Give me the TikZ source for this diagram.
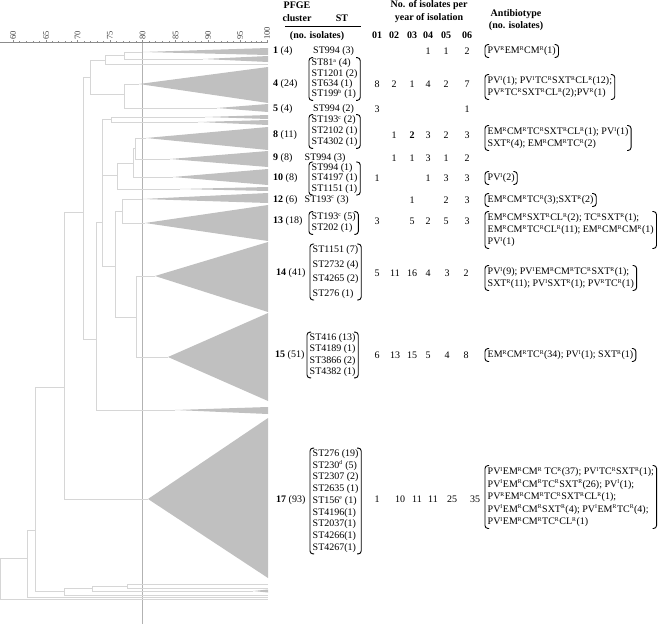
\documentclass[tikz,border=0pt]{standalone}
\usepackage{fontspec}
\setmainfont{Liberation Serif}
\usepackage{tikz}
\usetikzlibrary{positioning}
\definecolor{dendro}{RGB}{214,214,214}
\definecolor{wedgefill}{RGB}{192,192,192}
\definecolor{cutline}{RGB}{178,178,178}
\definecolor{axisgray}{RGB}{140,140,140}
\newcommand\rR{\textsuperscript{\fontsize{5.8}{6}\selectfont R}}
\newcommand\rI{\textsuperscript{\fontsize{5.8}{6}\selectfont I}}
\newcommand\stsup[1]{\textsuperscript{\fontsize{5.8}{6}\selectfont #1}}
% rounded side bars round a named node
\newcommand\encl[1]{%
  \draw[bar] ([xshift=4pt]#1.north west) -- (#1.north west) -- (#1.south west) -- ([xshift=4pt]#1.south west);
  \draw[bar] ([xshift=-4pt]#1.north east) -- (#1.north east) -- (#1.south east) -- ([xshift=-4pt]#1.south east);}

\begin{document}
\begin{tikzpicture}[x=1pt,y=-1pt,
    dend/.style={draw=dendro,line width=0.8pt},
    wedge/.style={fill=wedgefill},
    cut/.style={draw=cutline,line width=1.3pt},
    axisln/.style={draw=axisgray,line width=0.6pt},
    scalelbl/.style={rotate=90,anchor=west,inner sep=0pt,font=\fontsize{8.5}{9}\selectfont,text=black!75},
    hdr/.style={inner sep=0pt,font=\fontsize{10}{11}\selectfont\bfseries},
    clus/.style={anchor=west,inner sep=0pt,font=\fontsize{10}{11}\selectfont},
    st/.style={anchor=west,align=left,inner xsep=2.5pt,inner ysep=1.2pt,font=\fontsize{10}{11}\selectfont},
    yr/.style={inner sep=0pt,font=\fontsize{10}{11}\selectfont},
    abt/.style={anchor=west,align=left,inner xsep=2.5pt,inner ysep=1.5pt,font=\fontsize{10}{12}\selectfont},
    bar/.style={draw,line width=0.9pt,rounded corners=3pt}
  ]
  \useasboundingbox (0,0) rectangle (664,624);

  % similarity scale
  \draw[axisln] (0,42.5) -- (268,42.5);
  \foreach \v/\x in {60/13,65/46,70/77.5,75/110,80/142.5,85/175.5,90/208,95/240,100/267} {
    \node[scalelbl] (s\v) at (\x,40) {\v};
    \draw[axisln] (\x,42.5) -- ++(0,-3);
  }
  \foreach \p/\q in {13/46,46/77.5,77.5/110,110/142.5,142.5/175.5,175.5/208,208/240,240/267}
    \foreach \k in {1,...,4}
      \draw[axisln] ({\p+\k*(\q-\p)/5},42.5) -- ++(0,-1.5);

  % cut-off at 80%
  \draw[cut] (142.5,42.5) -- (142.5,624);

  % dendrogram branches
  \draw[dend] (142,52) -| (124,59) -- (203,59);
  \draw[dend] (124,55.5) -| (105,64) -- (268,64);
  \draw[dend] (105,60) -| (90,94) -- (124,94);
  \draw[dend] (139,84) -| (124,108) -- (217,108);
  \draw[dend] (90,77) -| (83,339) -- (96,339);
  \draw[dend] (205,117) -| (111,122) -- (198,122);
  \draw[dend] (111,119.5) -| (102.5,266) -- (115,266);
  \draw[dend] (102.5,175) -- (117,175);
  \draw[dend] (146,138) -| (135,159) -- (170,159);
  \draw[dend] (135,148.5) -| (133,177) -- (173,177);
  \draw[dend] (133,163) -| (117,189) -- (180,189);
  \draw[dend] (142,199) -| (122,223) -- (145,223);
  \draw[dend] (122,211) -| (115,317) -- (136,317);
  \draw[dend] (155,276) -| (136,357) -- (168,357);
  \draw[dend] (102.5,222) -| (96,410) -- (175,410);
  \draw[dend] (83,212) -| (64,499) -- (148,499);
  \draw[dend] (64,387) -| (35,591) -- (64,591);
  \draw[dend] (92,588.5) -| (64,595) -- (268,595);
  \draw[dend] (127,586) -| (92,591) -- (253,591);
  \draw[dend] (268,584) -| (127,588) -- (268,588);
  \draw[dend] (35,530) -| (27,597) -- (268,597);
  \draw[dend] (27,558) -| (0.5,599) -- (268,599);

  % collapsed clusters
  \fill[wedge] (142,52) -- (268,48) -- (268,55) -- cycle;
  \fill[wedge] (203,59) -- (268,56) -- (268,62) -- cycle;
  \fill[wedge] (139,84) -- (268,67) -- (268,103) -- cycle;
  \fill[wedge] (217,108) -- (268,104) -- (268,112) -- cycle;
  \fill[wedge] (205,117) -- (268,115) -- (268,119) -- cycle;
  \fill[wedge] (198,122) -- (268,120) -- (268,125) -- cycle;
  \fill[wedge] (146,138) -- (268,127) -- (268,150) -- cycle;
  \fill[wedge] (170,159) -- (268,151) -- (268,167) -- cycle;
  \fill[wedge] (173,177) -- (268,169) -- (268,185) -- cycle;
  \fill[wedge] (180,189) -- (268,187) -- (268,191) -- cycle;
  \fill[wedge] (142,199) -- (268,193) -- (268,203) -- cycle;
  \fill[wedge] (145,223) -- (268,205) -- (268,241) -- cycle;
  \fill[wedge] (155,276) -- (268,242) -- (268,312) -- cycle;
  \fill[wedge] (168,357) -- (268,313) -- (268,401) -- cycle;
  \fill[wedge] (175,410) -- (268,407) -- (268,414) -- cycle;
  \fill[wedge] (148,499) -- (268,418) -- (268,578) -- cycle;
  \fill[wedge] (253,591) -- (268,589.5) -- (268,592.5) -- cycle;

  % table headers
  \node[hdr] (hpfge) at (297,5) {PFGE};
  \node[hdr] (hclus) at (297,18) {cluster};
  \node[hdr] (hst) at (342,18) {ST};
  \draw[line width=0.8pt] (285,26.5) -- (361,26.5);
  \node[hdr] (hiso) at (317,36) {(no. isolates)};
  \node[hdr] (hyr1) at (429,5) {No. of isolates per};
  \node[hdr] (hyr2) at (429,18) {year of isolation};
  \foreach \x/\v in {377/01,394/02,412/03,428/04,446/05,467/06}
    \node[hdr] (h\v) at (\x,35) {\v};
  \node[hdr] (hab1) at (516,14) {Antibiotype};
  \node[hdr] (hab2) at (516,26) {(no. isolates)};

  % cluster 1
  \node[clus] (cl1) at (273,51) {\textbf{1} (4)};
  \node[st] (st1) at (310.5,51) {ST994 (3)};
  \foreach \x/\v [count=\i] in {428/1,446/1,467/2}
    \node[yr] (y1-\i) at (\x,51) {\v};
  \node[abt] (ab1) at (485,51) {PV\rR EM\rR CM\rR(1)};
  \encl{ab1}

  % cluster 4
  \node[clus] (cl4) at (273,84) {\textbf{4} (24)};
  \node[st,font=\fontsize{10}{10.3}\selectfont] (st4) at (309,79)
    {ST81\stsup{a} (4)\\ST1201 (2)\\ST634 (1)\\ST199\stsup{b} (1)};
  \encl{st4}
  \foreach \x/\v [count=\i] in {377/8,394/2,412/1,428/4,446/2,467/7}
    \node[yr] (y4-\i) at (\x,84) {\v};
  \node[abt] (ab4) at (485,87)
    {PV\rI(1); PV\rI TC\rR SXT\rR CL\rR(12);\\PV\rR TC\rR SXT\rR CL\rR (2);PV\rR(1)};
  \encl{ab4}

  % cluster 5
  \node[clus] (cl5) at (273,109) {\textbf{5} (4)};
  \node[st] (st5) at (310.5,109) {ST994 (2)};
  \foreach \x/\v [count=\i] in {377/3,467/1}
    \node[yr] (y5-\i) at (\x,109) {\v};

  % cluster 8
  \node[clus] (cl8) at (273,135) {\textbf{8} (11)};
  \node[st] (st8) at (309,131.5)
    {ST193\stsup{c} (2)\\ST2102 (1)\\ST4302 (1)};
  \encl{st8}
  \foreach \x/\v [count=\i] in {394/1,412/\textbf{2},428/3,446/2,467/3}
    \node[yr] (y8-\i) at (\x,135) {\v};
  \node[abt] (ab8) at (485,138)
    {EM\rR CM\rR TC\rR SXT\rR CL\rR(1); PV\rI(1)\\SXT\rR(4); EM\rR CM\rR TC\rR(2)};
  \encl{ab8}

  % cluster 9
  \node[clus] (cl9) at (273,158.5) {\textbf{9} (8)};
  \node[st] (st9) at (302,158.5) {ST994 (3)};
  \foreach \x/\v [count=\i] in {394/1,412/1,428/3,446/1,467/2}
    \node[yr] (y9-\i) at (\x,158.5) {\v};

  % cluster 10
  \node[clus] (cl10) at (273,178) {\textbf{10} (8)};
  \node[st,font=\fontsize{10}{10.6}\selectfont] (st10) at (309,178.5) {ST994 (1)\\ST4197 (1)\\ST1151 (1)};
  \encl{st10}
  \foreach \x/\v [count=\i] in {377/1,428/1,446/3,467/3}
    \node[yr] (y10-\i) at (\x,178) {\v};
  \node[abt] (ab10) at (485,178) {PV\rI(2)};
  \encl{ab10}

  % cluster 12
  \node[clus] (cl12) at (273,200) {\textbf{12} (6)};
  \node[st] (st12) at (302,200) {ST193\stsup{c} (3)};
  \foreach \x/\v [count=\i] in {412/1,446/2,467/3}
    \node[yr] (y12-\i) at (\x,200) {\v};
  \node[abt] (ab12) at (485,200) {EM\rR CM\rR TC\rR(3);SXT\rR(2)};
  \encl{ab12}

  % cluster 13
  \node[clus] (cl13) at (273,221) {\textbf{13} (18)};
  \node[st] (st13) at (309,223) {ST193\stsup{c} (5)\\ST202 (1)};
  \encl{st13}
  \foreach \x/\v [count=\i] in {377/3,412/5,428/2,446/5,467/3}
    \node[yr] (y13-\i) at (\x,221) {\v};
  \node[abt] (ab13) at (485,230)
    {EM\rR CM\rR SXT\rR CL\rR(2); TC\rR SXT\rR(1);\\EM\rR CM\rR TC\rR CL\rR (11); EM\rR CM\rR CM\rR(1)\\PV\rI(1)};
  \encl{ab13}

  % cluster 14
  \node[clus] (cl14) at (276,273) {\textbf{14} (41)};
  \node[st,font=\fontsize{10}{14.7}\selectfont] (st14) at (310,272)
    {ST1151 (7)\\ST2732 (4)\\ST4265 (2)\\ST276 (1)};
  \encl{st14}
  \foreach \x/\v [count=\i] in {377/5,395/11,412/16,428/4,447/3,466/2}
    \node[yr] (y14-\i) at (\x,273) {\v};
  \node[abt] (ab14) at (485,278)
    {PV\rI(9); PV\rI EM\rR CM\rR TC\rR SXT\rR(1);\\SXT\rR(11); PV\rI SXT\rR(1); PV\rR TC\rR(1)};
  \encl{ab14}

  % cluster 15
  \node[clus] (cl15) at (275,355) {\textbf{15} (51)};
  \node[st,font=\fontsize{10}{11.3}\selectfont] (st15) at (307,355)
    {ST416 (13)\\ST4189 (1)\\ST3866 (2)\\ST4382 (1)};
  \encl{st15}
  \foreach \x/\v [count=\i] in {377/6,395/13,412/15,428/5,447/4,466/8}
    \node[yr] (y15-\i) at (\x,355) {\v};
  \node[abt] (ab15) at (485,355) {EM\rR CM\rR TC\rR(34); PV\rI(1); SXT\rR(1)};
  \encl{ab15}

  % cluster 17
  \node[clus] (cl17) at (276,500) {\textbf{17} (93)};
  \node[st,font=\fontsize{10}{11.75}\selectfont] (st17) at (310,501)
    {ST276 (19)\\ST230\stsup{d} (5)\\ST2307 (2)\\ST2635 (1)\\ST156\stsup{e} (1)\\ST4196(1)\\ST2037(1)\\ST4266(1)\\ST4267(1)};
  \encl{st17}
  \foreach \x/\v [count=\i] in {377/1,400/10,417/11,433/11,452/25,475/35}
    \node[yr] (y17-\i) at (\x,499) {\v};
  \node[abt,font=\fontsize{10}{12.5}\selectfont] (ab17) at (485,497)
    {PV\rI EM\rR CM\rR{} TC\rR(37); PV\rI TC\rR SXT\rR(1);\\
     PV\rI EM\rR CM\rR TC\rR SXT\rR(26); PV\rI(1);\\
     PV\rR EM\rR CM\rR TC\rR SXT\rR CL\rR(1);\\
     PV\rI EM\rR CM\rR SXT\rR(4); PV\rI EM\rR TC\rR(4);\\
     PV\rI EM\rR CM\rR TC\rR CL\rR(1)};
  \encl{ab17}
\end{tikzpicture}
\end{document}
